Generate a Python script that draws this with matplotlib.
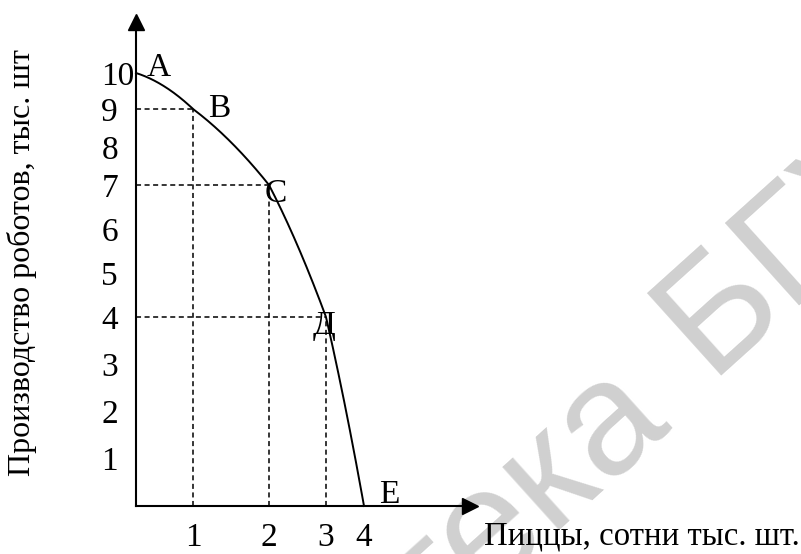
import numpy as np
import matplotlib
matplotlib.use('Agg')
import matplotlib.pyplot as plt

# Точки кривой производственных возможностей
pizza = [0, 1, 2, 3, 4]          # сотни тыс. шт.
robots = [10, 9, 7, 4, 0]        # тыс. шт.
point_names = ['А', 'В', 'С', 'Д', 'Е']
x_ticks = [1, 2, 3, 4]
y_ticks = [1, 2, 3, 4, 5, 6, 7, 8, 9, 10]

plt.rcParams['font.family'] = ['Liberation Serif', 'DejaVu Serif']
fs = 24

W, H = 801, 554
fig = plt.figure(figsize=(W / 100, H / 100), dpi=100)

# оси: начало координат в (136, 506) px, стрелки до (470, 22) px
x0, y0, x1, y1 = 136, 506, 470, 22
ax = fig.add_axes([x0 / W, 1 - y0 / H, (x1 - x0) / W, (y0 - y1) / H])

# рисунок в источнике начерчен от руки: шкалы слегка неравномерные
xv, xp_ = [0, 1, 2, 3, 4, 5.86], [0, 57, 133, 190, 228, 334]
yv, yp_ = [0, 4, 7, 9, 10, 11.42], [0, 189, 321, 397, 433, 484]
ax.set_xscale('function', functions=(lambda v: np.interp(v, xv, xp_),
                                     lambda p: np.interp(p, xp_, xv)))
ax.set_yscale('function', functions=(lambda v: np.interp(v, yv, yp_),
                                     lambda p: np.interp(p, yp_, yv)))
ax.set_xlim(0, 5.86)
ax.set_ylim(0, 11.42)
ax.patch.set_alpha(0)

for s in ['top', 'right']:
    ax.spines[s].set_visible(False)
for s in ['left', 'bottom']:
    ax.spines[s].set_linewidth(1.5)

ax.plot(1, 0, '>k', ms=11, transform=ax.get_yaxis_transform(), clip_on=False)
ax.plot(0, 1, '^k', ms=11, transform=ax.get_xaxis_transform(), clip_on=False)

# кривая: квадратичная аппроксимация по точкам
coef = np.polyfit(pizza, robots, 2)
xs = np.linspace(pizza[0], pizza[-1], 400)
ax.plot(xs, np.polyval(coef, xs), color='black', lw=1.4, clip_on=False)

# пунктир к точкам B, C, Д
for xp, yp in zip(pizza[1:4], robots[1:4]):
    ax.plot([0, xp], [yp, yp], color='black', lw=1.1, ls=(0, (3.3, 2.3)))
    ax.plot([xp, xp], [0, yp], color='black', lw=1.1, ls=(0, (3.3, 2.3)))

# подписи точек
offsets = [(16.5, 3.6), (18.7, 0), (5, -6.5), (-1.5, -6.5), (18, 8)]
for name, xp, yp, off in zip(point_names, pizza, robots, offsets):
    ax.annotate(name, (xp, yp), xytext=off, textcoords='offset points',
                ha='center', va='center', fontsize=fs)

ax.set_xticks(x_ticks)
ax.set_xticklabels([str(t) for t in x_ticks], fontsize=fs)
ax.set_yticks(y_ticks)
ax.set_yticklabels([str(t) for t in y_ticks], fontsize=fs, ha='left')
ax.tick_params(axis='x', length=0, pad=12)
ax.tick_params(axis='y', length=0, pad=25)
ax.minorticks_off()

fig.text(22 / W, 1 - 263 / H, 'Производство роботов, тыс. шт', rotation=90,
         ha='center', va='center', fontsize=23)
fig.text(484 / W, 1 - 536 / H, 'Пиццы, сотни тыс. шт.',
         ha='left', va='center', fontsize=23.6)

# водяной знак
wm = dict(fontsize=116, color='#d0d0d0', rotation=42, rotation_mode='anchor',
          family='Liberation Sans', zorder=-10, va='baseline')
fig.text(670 / W, 1 - 418 / H, 'Библиотека', ha='right', **wm)
fig.text(708 / W, 1 - 376 / H, 'БГУИР', ha='left', **wm)

fig.savefig('out.png', dpi=100)
